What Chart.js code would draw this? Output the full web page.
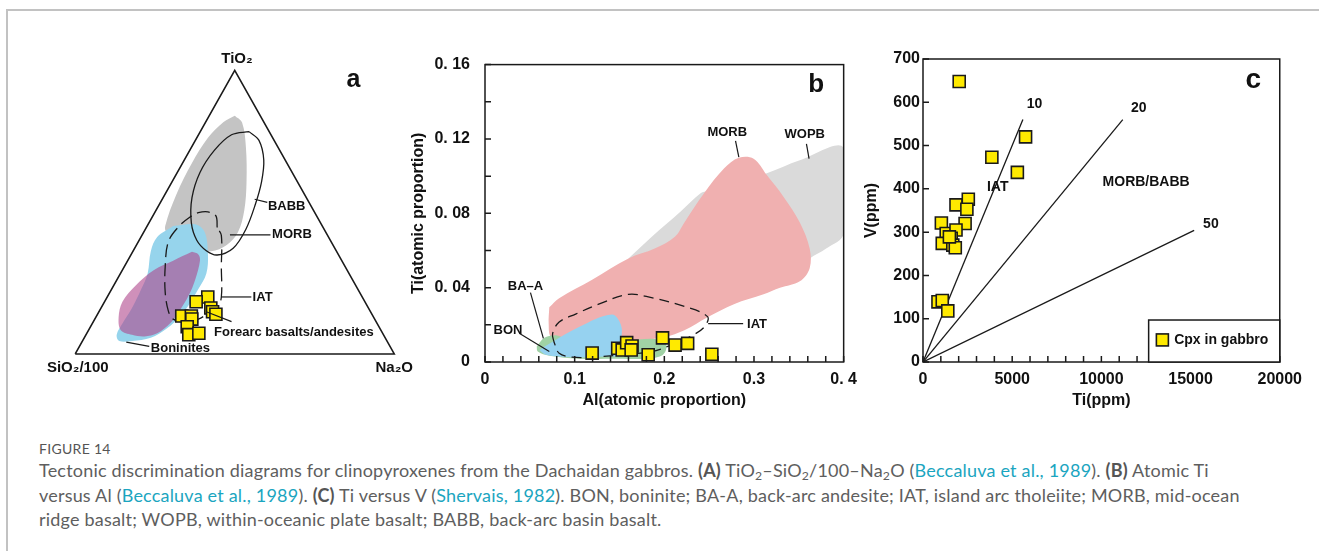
<!DOCTYPE html>
<html>
<head>
<meta charset="utf-8">
<script src="https://cdn.jsdelivr.net/npm/chart.js@4.4.0/dist/chart.umd.min.js"></script>
<style>
  html, body { margin: 0; padding: 0; background: #fff; }
  body { width: 1319px; height: 551px; position: relative; overflow: hidden; }
  .frame { position: absolute; left: 6px; top: 9px; width: 1330px; height: 560px;
           border-top: 2px solid #c2c2c2; border-left: 2px solid #c2c2c2; }
  canvas { position: absolute; }
  #ca { left: 30px; top: 30px; }
  #cb { left: 405px; top: 40px; }
  #cc { left: 858px; top: 40px; }
  .cap { position: absolute; left: 39px; font-family: Lato, "Noto Sans", sans-serif; color: #5e5e5e;
         white-space: nowrap; }
  .fig { top: 441px; font-size: 14px; line-height: 16px; letter-spacing: 0.3px; color: #555; }
  .ln { font-size: 18px; line-height: 24.5px; letter-spacing: 0.2px; }
  .ln b { color: #555; }
  .ln a { color: #1aa5c0; text-decoration: none; }
  .ln sub { font-size: 0.68em; line-height: 0; vertical-align: -0.25em; }
</style>
</head>
<body>
<div class="frame"></div>
<canvas id="ca" width="400" height="370"></canvas>
<canvas id="cb" width="460" height="374"></canvas>
<canvas id="cc" width="452" height="374"></canvas>

<div class="cap fig">FIGURE 14</div>
<div class="cap ln" style="top:458px">Tectonic discrimination diagrams for clinopyroxenes from the Dachaidan gabbros. <b>(A)</b> TiO<sub>2</sub>–SiO<sub>2</sub>/100–Na<sub>2</sub>O (<a>Beccaluva et al., 1989</a>). <b>(B)</b> Atomic Ti</div>
<div class="cap ln" style="top:482.5px">versus Al (<a>Beccaluva et al., 1989</a>). <b>(C)</b> Ti versus V (<a>Shervais, 1982</a>). BON, boninite; BA-A, back-arc andesite; IAT, island arc tholeiite; MORB, mid-ocean</div>
<div class="cap ln" style="top:507px">ridge basalt; WOPB, within-oceanic plate basalt; BABB, back-arc basin basalt.</div>

<script>
// ---------- panel a : TiO2 - SiO2/100 - Na2O (wt% proportions) ----------
const aTiO2 = [20.1, 18.4, 16.2, 14.9, 14.0, 13.4, 13.4, 12.3, 9.6, 6.8, 7.3];
const aNa2O = [31.5, 28.7, 34.4, 35.6, 37.1, 26.7, 29.7, 30.4, 30.3, 32.2, 35.1];
const aSiO2 = [48.4, 52.9, 49.4, 49.5, 48.9, 59.9, 56.9, 57.3, 60.1, 61.0, 57.6];

// field outlines in triangle coordinates (x: along base, y: height)
const aGrayField = [[.500,.840],[.523,.816],[.535,.729],[.537,.607],[.530,.507],[.510,.429],[.475,.384],[.426,.362],
  [.386,.373],[.346,.407],[.287,.429],[.282,.451],[.317,.562],[.366,.673],[.416,.762],[.465,.818],[.500,.840]];
const aBlueField = [[.307,.451],[.376,.457],[.406,.429],[.416,.351],[.411,.284],[.386,.229],[.356,.173],[.326,.129],
  [.287,.090],[.237,.057],[.178,.046],[.138,.046],[.130,.068],[.148,.107],[.178,.162],[.207,.229],[.227,.284],
  [.237,.362],[.257,.412],[.307,.451]];
const aPinkField = [[.366,.360],[.386,.351],[.391,.329],[.376,.262],[.356,.207],[.326,.151],[.297,.107],[.257,.073],
  [.217,.062],[.178,.068],[.143,.084],[.136,.129],[.148,.184],[.188,.240],[.247,.296],[.307,.329],[.366,.360]];
const aMorbLoop = [[.545,.784],[.576,.753],[.591,.684],[.584,.607],[.565,.529],[.535,.440],[.495,.373],[.445,.349],
  [.411,.364],[.381,.401],[.364,.462],[.366,.551],[.391,.640],[.436,.718],[.490,.773],[.545,.784]];
const aIatLoop = [[.445,.446],[.441,.487],[.416,.501],[.386,.498],[.361,.484],[.326,.451],[.292,.396],[.282,.307],
  [.282,.218],[.292,.151],[.307,.123],[.346,.114],[.386,.123],[.416,.142],[.445,.162],[.458,.201],[.458,.307],
  [.458,.418],[.445,.446]];

const aLabels = [
  {t: 'TiO₂', x: .507, y: 1.040, f: 'bold 15px "Liberation Sans", Arial', al: 'center'},
  {t: 'SiO₂/100', x: .008, y: -.050, f: 'bold 15px "Liberation Sans", Arial', al: 'center'},
  {t: 'Na₂O', x: 1.000, y: -.050, f: 'bold 15px "Liberation Sans", Arial', al: 'center'},
  {t: 'a', x: .872, y: .965, f: 'bold 25px "Liberation Sans", Arial', al: 'center'},
  {t: 'BABB', x: .604, y: .520, f: 'bold 13px "Liberation Sans", Arial'},
  {t: 'MORB', x: .617, y: .420, f: 'bold 13px "Liberation Sans", Arial'},
  {t: 'IAT', x: .556, y: .201, f: 'bold 13px "Liberation Sans", Arial'},
  {t: 'Forearc basalts/andesites', x: .435, y: .076, f: 'bold 13px "Liberation Sans", Arial'},
  {t: 'Boninites', x: .237, y: .020, f: 'bold 13px "Liberation Sans", Arial'}
];
const aLeaders = [
  [[.5625,.5456],[.6020,.5344]],
  [[.485,.420],[.612,.420]],
  [[.458,.201],[.552,.201]],
  [[.411,.149],[.490,.114]],
  [[.160,.042],[.232,.027]]
];

// ---------- panel b : Ti vs Al (atomic proportion) ----------
const bAl = [0.1195, 0.148, 0.153, 0.158, 0.164, 0.163, 0.182, 0.198, 0.212, 0.226, 0.253];
const bTi = [0.0048, 0.0074, 0.0065, 0.0104, 0.0086, 0.0065, 0.0039, 0.0130, 0.0091, 0.0100, 0.0042];
const bYTickLabels = ['0', '0. 04', '0. 08', '0. 12', '0. 16'];
const bXTickLabels = ['0', '0.1', '0.2', '0.3', '0. 4'];

const bWopbField = [[.160,.0557],[.1857,.0672],[.2188,.0812],[.2408,.0909],[.2482,.0918],[.2776,.0962],[.3143,.1015],
  [.3511,.1085],[.400,.1152],[.400,.069],[.3805,.061],[.3621,.0557],[.3327,.0434],[.2592,.0364],[.1857,.0469],[.160,.0557]];
const bMorbField = [[.0717,.0294],[.0827,.0343],[.1195,.0443],[.160,.0557],[.1893,.061],[.2114,.0672],[.2224,.0751],
  [.2445,.0909],[.2665,.1041],[.2831,.1099],[.2996,.1094],[.3143,.1006],[.3327,.0891],[.3511,.0751],[.3621,.061],
  [.3621,.0505],[.3511,.0434],[.329,.0399],[.3107,.0364],[.2776,.0311],[.2482,.0241],[.2224,.0171],[.2004,.0135],
  [.1673,.0118],[.1489,.0144],[.1121,.0153],[.0864,.0121],[.0735,.0135],[.071,.0206],[.0717,.0294]];
const bBonField = [[.0607,.0065],[.0754,.0109],[.1048,.0188],[.1415,.0255],[.1518,.0197],[.1518,.0118],[.1489,.0039],
  [.1342,.0030],[.0974,.0026],[.068,.0039],[.0607,.0065]];
const bBaaField = [[.0577,.0083],[.0662,.013],[.079,.0144],[.0938,.0118],[.1195,.010],[.1489,.0109],[.171,.0121],
  [.193,.0121],[.2022,.0091],[.1985,.0039],[.182,.0018],[.1489,.0018],[.1048,.0018],[.0717,.0033],[.0588,.0056],[.0577,.0083]];
const bIatLoop = [[.0768,.0109],[.0754,.0153],[.0827,.0215],[.1011,.0258],[.1268,.0311],[.160,.0364],[.1857,.0346],
  [.2224,.0299],[.2482,.0244],[.2445,.0188],[.2298,.0139],[.2077,.0091],[.1857,.0056],[.1526,.0039],[.1195,.0026],
  [.0974,.0026],[.0827,.0047],[.0768,.0109]];

const bLabels = [
  {t: 'b', x: .3695, y: .1489, f: 'bold 26px "Liberation Sans", Arial', al: 'center'},
  {t: 'MORB', x: .2702, y: .1234, f: 'bold 13px "Liberation Sans", Arial', al: 'center'},
  {t: 'WOPB', x: .3566, y: .1225, f: 'bold 13px "Liberation Sans", Arial', al: 'center'},
  {t: 'BA–A', x: .0452, y: .0408, f: 'bold 13px "Liberation Sans", Arial', al: 'center'},
  {t: 'BON', x: .0257, y: .0171, f: 'bold 13px "Liberation Sans", Arial', al: 'center'},
  {t: 'IAT', x: .2923, y: .0202, f: 'bold 13px "Liberation Sans", Arial'}
];
const bLeaders = [
  [[.2794,.1190],[.2831,.1102]],
  [[.3585,.1173],[.3614,.1094]],
  [[.0507,.0373],[.0651,.0127]],
  [[.0386,.0153],[.0717,.0056]],
  [[.2489,.0206],[.2879,.0206]]
];

// ---------- panel c : V vs Ti (ppm) ----------
const cTi = [2030, 5750, 3860, 5290, 1850, 2540, 2460, 1030, 2360, 1300, 1850, 1580, 1080, 1670, 1810, 1480, 840, 1080, 1390];
const cV  = [648, 520, 473, 438, 363, 376, 353, 321, 320, 297, 305, 286, 274, 270, 264, 289, 139, 142, 118];
const cRatios = [10, 20, 50];
const cRatioEndTi = [5600, 11200, 15200];
const cXTickLabels = ['0', '5000', '10000', '15000', '20000'];

const cLabels = [
  {t: 'c', x: 18520, y: 651, f: 'bold 28px "Liberation Sans", Arial', al: 'center'},
  {t: '10', x: 6250, y: 596, f: 'bold 14px "Liberation Sans", Arial', al: 'center'},
  {t: '20', x: 12100, y: 587, f: 'bold 14px "Liberation Sans", Arial', al: 'center'},
  {t: '50', x: 16140, y: 319, f: 'bold 14px "Liberation Sans", Arial', al: 'center'},
  {t: 'IAT', x: 4190, y: 403, f: 'bold 14px "Liberation Sans", Arial', al: 'center'},
  {t: 'MORB/BABB', x: 12510, y: 416, f: 'bold 14px "Liberation Sans", Arial', al: 'center'},
  {t: 'Cpx in gabbro', x: 14080, y: 51, f: 'bold 14px "Liberation Sans", Arial'}
];

// ---------- helpers ----------
const toXY = arr => arr.map(p => ({x: p[0], y: p[1]}));
const yellow = '#ffea00';
const ink = '#1a1a1a';

function field(data, color) {
  return {data: toXY(data), showLine: true, fill: 'shape', backgroundColor: color,
          borderWidth: 0, pointRadius: 0, tension: 0.35};
}
function outline(data, dash) {
  return {data: toXY(data), showLine: true, fill: false, borderColor: ink, borderWidth: 1.3,
          borderDash: dash || [], pointRadius: 0, tension: 0.35};
}
function points(data) {
  return {data: data, showLine: false, pointStyle: 'rect', pointRadius: 8.5,
          backgroundColor: yellow, borderColor: ink, borderWidth: 1.6};
}

function annotate(labels, leaders) {
  return {
    id: 'annotate',
    afterDatasetsDraw(chart) {
      const {ctx, scales: {x, y}} = chart;
      ctx.save();
      ctx.strokeStyle = ink;
      ctx.lineWidth = 1.2;
      leaders.forEach(seg => {
        ctx.beginPath();
        seg.forEach((p, i) => {
          const px = x.getPixelForValue(p[0]), py = y.getPixelForValue(p[1]);
          if (i) ctx.lineTo(px, py); else ctx.moveTo(px, py);
        });
        ctx.stroke();
      });
      ctx.fillStyle = '#111';
      ctx.textBaseline = 'middle';
      labels.forEach(l => {
        ctx.font = l.f;
        ctx.textAlign = l.al || 'left';
        ctx.fillText(l.t, x.getPixelForValue(l.x), y.getPixelForValue(l.y));
      });
      ctx.restore();
    }
  };
}

// box round the plot and ticks pointing inward
const boxPlugin = {
  id: 'box',
  afterDatasetsDraw(chart, args, opts) {
    const {ctx, chartArea: a, scales: {x, y}} = chart;
    ctx.save();
    ctx.strokeStyle = ink;
    ctx.lineWidth = 1.5;
    ctx.beginPath();
    x.ticks.forEach(t => {
      const px = x.getPixelForValue(t.value);
      ctx.moveTo(px, a.bottom); ctx.lineTo(px, a.bottom - opts.len);
    });
    y.ticks.forEach(t => {
      const py = y.getPixelForValue(t.value);
      ctx.moveTo(a.left, py); ctx.lineTo(a.left + opts.len, py);
    });
    ctx.stroke();
    ctx.strokeRect(a.left, a.top, a.right - a.left, a.bottom - a.top);
    ctx.restore();
  }
};

const axisFont = {family: '"Liberation Sans", Arial', size: 16, weight: 'bold'};
const hiddenScale = (min, max) => ({type: 'linear', min, max, display: false});

// ---------- chart a ----------
const aPts = aTiO2.map((ti, i) => ({x: (aNa2O[i] + ti / 2) / 100, y: ti / 100}));
new Chart(document.getElementById('ca'), {
  type: 'scatter',
  data: {datasets: [
    points(aPts),
    outline(aMorbLoop),
    outline(aIatLoop, [13, 6]),
    {data: toXY([[0,0],[1,0],[0.5,1],[0,0]]), showLine: true, borderColor: ink, borderWidth: 1.6, pointRadius: 0, fill: false},
    field(aPinkField, 'rgba(175,70,140,0.6)'),
    field(aBlueField, 'rgb(150,212,236)'),
    field(aGrayField, 'rgb(196,196,196)')
  ]},
  options: {
    responsive: false, animation: false, events: [],
    layout: {padding: 0},
    plugins: {legend: {display: false}, tooltip: {enabled: false}},
    scales: {x: hiddenScale(-0.1101, 1.0804), y: hiddenScale(-0.1267, 1.1067)}
  },
  plugins: [annotate(aLabels, aLeaders)]
});

// ---------- chart b ----------
const bPts = bAl.map((al, i) => ({x: al, y: bTi[i]}));
new Chart(document.getElementById('cb'), {
  type: 'scatter',
  data: {datasets: [
    points(bPts),
    outline(bIatLoop, [10, 6]),
    field(bBonField, 'rgb(150,210,240)'),
    field(bBaaField, 'rgb(160,210,165)'),
    field(bMorbField, 'rgb(240,176,176)'),
    field(bWopbField, 'rgb(218,218,218)')
  ]},
  options: {
    responsive: false, animation: false, events: [],
    layout: {padding: {top: 19, right: 17}},
    plugins: {legend: {display: false}, tooltip: {enabled: false}, box: {len: 6}},
    scales: {
      x: {
        type: 'linear', min: 0, max: 0.4,
        grid: {display: false, drawTicks: false}, border: {display: false},
        ticks: {stepSize: 0.02, autoSkip: false, maxRotation: 0, padding: 8, color: '#111', font: axisFont,
                callback: v => Math.round(v * 100) % 10 === 0 ? bXTickLabels[Math.round(v * 10)] : ''},
        title: {display: true, text: 'Al(atomic proportion)', color: '#111', font: axisFont},
        afterFit: s => { s.height = 52; }
      },
      y: {
        type: 'linear', min: 0, max: 0.16,
        grid: {display: false, drawTicks: false}, border: {display: false},
        ticks: {stepSize: 0.02, autoSkip: false, padding: 15, color: '#111', font: axisFont,
                callback: v => Math.round(v * 100) % 4 === 0 ? bYTickLabels[Math.round(v * 25)] : ''},
        title: {display: true, text: 'Ti(atomic proportion)', color: '#111', font: axisFont},
        afterFit: s => { s.width = 80; }
      }
    }
  },
  plugins: [boxPlugin, annotate(bLabels, bLeaders)]
});

// ---------- chart c ----------
const cPts = cTi.map((ti, i) => ({x: ti, y: cV[i]}));
const ratioLines = cRatios.map((r, i) => ({
  data: [{x: 0, y: 0}, {x: cRatioEndTi[i], y: cRatioEndTi[i] / r}],
  showLine: true, borderColor: ink, borderWidth: 1.3, pointRadius: 0, fill: false
}));
const legendPlugin = {
  id: 'cpxLegend',
  afterDatasetsDraw(chart) {
    const {ctx, scales: {x, y}} = chart;
    const l = x.getPixelForValue(12650), r = x.getPixelForValue(20000);
    const t = y.getPixelForValue(97), b = y.getPixelForValue(0);
    ctx.save();
    ctx.fillStyle = '#fff';
    ctx.fillRect(l, t, r - l, b - t);
    ctx.strokeStyle = ink;
    ctx.lineWidth = 1.5;
    ctx.strokeRect(l, t, r - l, b - t);
    const mx = x.getPixelForValue(13420), my = y.getPixelForValue(51);
    ctx.fillStyle = yellow;
    ctx.fillRect(mx - 6, my - 6, 12, 12);
    ctx.lineWidth = 1.6;
    ctx.strokeRect(mx - 6, my - 6, 12, 12);
    ctx.restore();
  }
};
new Chart(document.getElementById('cc'), {
  type: 'scatter',
  data: {datasets: [points(cPts)].concat(ratioLines)},
  options: {
    responsive: false, animation: false, events: [],
    layout: {padding: {top: 19, right: 23}},
    plugins: {legend: {display: false}, tooltip: {enabled: false}, box: {len: 6}},
    scales: {
      x: {
        type: 'linear', min: 0, max: 20000,
        grid: {display: false, drawTicks: false}, border: {display: false},
        ticks: {stepSize: 1000, autoSkip: false, maxRotation: 0, padding: 8, color: '#111', font: axisFont,
                callback: v => v % 5000 === 0 ? cXTickLabels[v / 5000] : ''},
        title: {display: true, text: 'Ti(ppm)', color: '#111', font: axisFont},
        afterFit: s => { s.height = 52; }
      },
      y: {
        type: 'linear', min: 0, max: 700,
        grid: {display: false, drawTicks: false}, border: {display: false},
        ticks: {stepSize: 100, autoSkip: false, padding: 3, color: '#111', font: axisFont},
        title: {display: true, text: 'V(ppm)', color: '#111', font: axisFont},
        afterFit: s => { s.width = 65; }
      }
    }
  },
  plugins: [boxPlugin, legendPlugin, annotate(cLabels, [])]
});
</script>
</body>
</html>
